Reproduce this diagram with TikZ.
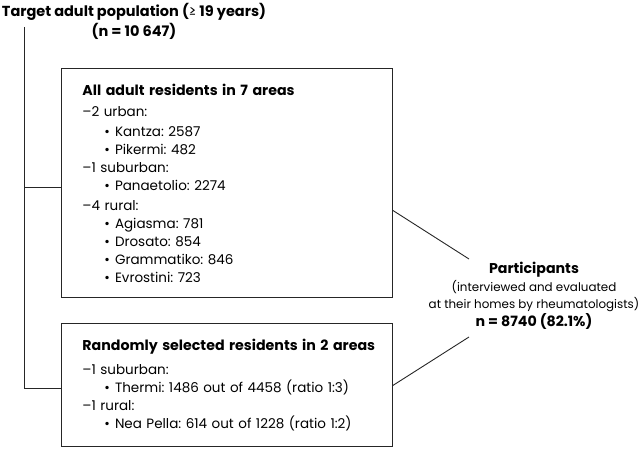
\documentclass[tikz,border=0pt]{standalone}
\usepackage{fontspec}
\setmainfont{Poppins}
\usetikzlibrary{positioning}
\frenchspacing
\newcommand{\itm}{\hspace*{22pt}•\hspace{5pt}}
\newcommand{\hd}[1]{{\fontsize{14.2}{18}\selectfont\bfseries\mbox{#1}}}
\begin{document}
\begin{tikzpicture}[x=1pt, y=-1pt,
        line width=0.9pt, black!85,
        txt/.style={font=\fontsize{13.5}{18}\selectfont, text=black},
        areabox/.style={txt, draw, anchor=north west, align=left, text width=289pt, inner xsep=21pt, inner ysep=0pt}]
        \useasboundingbox (0,0) rectangle (640,449);
        % Target population
        \node[txt, align=center, font=\fontsize{14.5}{20}\selectfont\bfseries] (target) at (134,21)
            {Target adult population ({\mdseries ≥} 19 years)\\(n = 10 647)};
        % All residents
        \node[areabox, minimum width=331pt, minimum height=229pt] (allres) at (61,68)
            {\hd{All adult residents in 7 areas}\\[3pt]
             –2 urban:\\[2pt]
             \itm Kantza: 2587\\
             \itm Pikermi: 482\\
             –1 suburban:\\
             \itm Panaetolio: 2274\\[2pt]
             –4 rural:\\
             \itm Agiasma: 781\\
             \itm Drosato: 854\\
             \itm Grammatiko: 846\\
             \itm Evrostini: 723};
        % Random sample
        \node[areabox, minimum width=331pt, minimum height=123pt] (randres) at (61,323)
            {\hd{Randomly selected residents in 2 areas}\\[6pt]
             –1 suburban:\\
             \itm Thermi: 1486 out of 4458 (ratio 1:3)\\
             –1 rural:\\
             \itm Nea Pella: 614 out of 1228 (ratio 1:2)};
        % Participants
        \node[txt, align=center, font=\fontsize{11.9}{17.5}\selectfont] (part) at (534,296)
            {\hd{Participants}\\(interviewed and evaluated\\at their homes by rheumatologists)\\\hd{n = 8740 (82.1\%)}};
        % connectors
        \coordinate (spine) at (24,27);
        \coordinate (allin) at ([yshift=-4.5pt]allres.west);
        \coordinate (randin) at ([yshift=-3.5pt]randres.west);
        \coordinate (allout) at ([yshift=-27.5pt]allres.east);
        \coordinate (randout) at ([yshift=-0.5pt]randres.east);
        \coordinate (partin1) at ([xshift=-65pt, yshift=37pt]part.center);
        \coordinate (partin2) at ([xshift=-65pt, yshift=-41pt]part.center);
        \draw (spine) |- (randin);
        \draw (allin) -- (spine |- allin);
        \draw (allout) -- (partin1);
        \draw (randout) -- (partin2);
    \end{tikzpicture}
\end{document}
